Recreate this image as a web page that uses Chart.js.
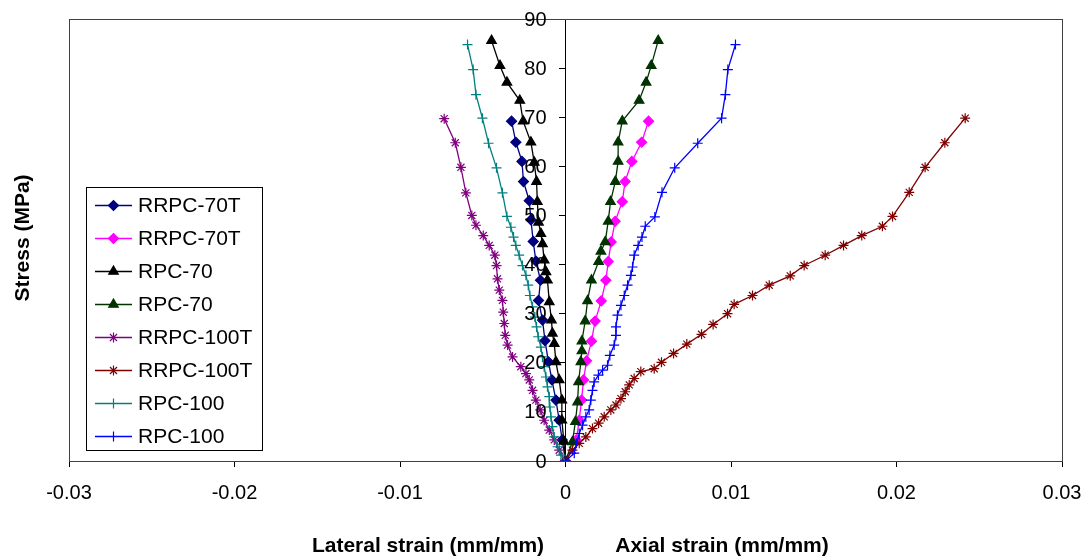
<!DOCTYPE html>
<html lang="en">
<head>
<meta charset="utf-8">
<title>Stress - strain</title>
<script src="https://cdn.jsdelivr.net/npm/chart.js"></script>
<style>
  html, body { margin: 0; padding: 0; background: #fff; }
  #wrap { width: 1087px; height: 557px; position: relative; }
</style>
</head>
<body>
<div id="wrap"><canvas id="chart" width="1087" height="557"></canvas></div>
<script>
// axis ticks
var xTickValues = [-0.03, -0.02, -0.01, 0, 0.01, 0.02, 0.03];
var xTickLabels = ['-0.03', '-0.02', '-0.01', '0', '0.01', '0.02', '0.03'];
var yTickValues = [0, 10, 20, 30, 40, 50, 60, 70, 80, 90];
var yTickLabels = ['0', '10', '20', '30', '40', '50', '60', '70', '80', '90'];

var seriesNames = ['RRPC-70T', 'RRPC-70T', 'RPC-70', 'RPC-70', 'RRPC-100T', 'RRPC-100T', 'RPC-100', 'RPC-100'];

// RRPC-70T lateral / axial
var rrpc70tLatStrain = [0, -0.0002, -0.00038, -0.00058, -0.00082, -0.00103, -0.00124, -0.00139, -0.00163, -0.00151, -0.00179, -0.00195, -0.00209, -0.00219, -0.00254, -0.00263, -0.003, -0.00326];
var rrpc70tLatStress = [0, 4.3, 8.3, 12.4, 16.5, 20.2, 24.5, 28.7, 32.7, 36.8, 40.7, 44.7, 49.1, 53.0, 56.9, 61.0, 64.9, 69.2];
var rrpc70tAxStrain = [0, 0.00065, 0.00083, 0.00097, 0.00109, 0.00127, 0.00157, 0.00179, 0.00216, 0.00244, 0.00258, 0.00276, 0.003, 0.00343, 0.0036, 0.00401, 0.0046, 0.00502];
var rrpc70tAxStress = [0, 4.3, 8.3, 12.4, 16.5, 20.4, 24.4, 28.5, 32.6, 36.8, 40.6, 44.6, 48.8, 52.8, 56.9, 61.0, 64.9, 69.2];

// RPC-70 lateral / axial
var rpc70LatStrain = [0, -0.0001, -0.00022, -0.00022, -0.00038, -0.00058, -0.00068, -0.00079, -0.00085, -0.00098, -0.00109, -0.00118, -0.00129, -0.00139, -0.00149, -0.00163, -0.0017, -0.00175, -0.00189, -0.00209, -0.00256, -0.00276, -0.00354, -0.00396, -0.00447];
var rpc70LatStress = [0, 4.0, 8.3, 12.4, 16.5, 20.2, 23.9, 26.0, 28.7, 32.4, 36.8, 38.5, 40.9, 44.2, 46.3, 48.6, 52.8, 56.9, 60.8, 64.9, 69.2, 73.4, 77.1, 80.5, 85.6];
var rpc70AxStrain = [0, 0.00042, 0.0006, 0.00073, 0.00079, 0.00093, 0.00099, 0.00099, 0.00119, 0.00133, 0.00157, 0.002, 0.00214, 0.0024, 0.00258, 0.00272, 0.00301, 0.00318, 0.00318, 0.00343, 0.00445, 0.00487, 0.00518, 0.0056];
var rpc70AxStress = [0, 3.9, 8.0, 12.0, 16.1, 20.2, 22.4, 24.4, 28.5, 32.6, 36.8, 40.6, 42.7, 44.6, 48.8, 52.8, 56.9, 61.0, 64.9, 69.2, 73.4, 77.1, 80.5, 85.6];

// RRPC-100T lateral / axial
var rrpc100tLatStrain = [0, -0.00038, -0.00068, -0.00098, -0.00129, -0.00153, -0.00179, -0.00199, -0.00219, -0.00239, -0.0027, -0.0032, -0.0035, -0.00364, -0.0037, -0.00376, -0.00381, -0.004, -0.00411, -0.00417, -0.00427, -0.00461, -0.00497, -0.00541, -0.00566, -0.00602, -0.00632, -0.00666, -0.00733];
var rrpc100tLatStress = [0, 2.2, 4.3, 6.3, 8.3, 10.4, 12.4, 14.4, 16.5, 17.8, 19.2, 21.2, 23.6, 25.6, 28.0, 30.3, 32.7, 34.8, 37.1, 39.8, 41.9, 43.9, 45.9, 48.0, 50.0, 54.6, 59.8, 64.8, 69.7];
var rrpc100tAxStrain = [0, 0.00042, 0.00083, 0.00123, 0.00163, 0.002, 0.00234, 0.00274, 0.00305, 0.00335, 0.00361, 0.00385, 0.00415, 0.00455, 0.00536, 0.0058, 0.00653, 0.00733, 0.00822, 0.00892, 0.00979, 0.01019, 0.0113, 0.01231, 0.01358, 0.01442, 0.01569, 0.0168, 0.0179, 0.01915, 0.01976, 0.02077, 0.02173, 0.02292, 0.02415];
var rrpc100tAxStress = [0, 2.2, 3.6, 4.9, 6.6, 7.7, 9.0, 10.4, 11.4, 12.7, 14.1, 15.5, 16.8, 18.2, 18.8, 20.1, 21.9, 23.8, 25.8, 27.8, 30.0, 31.9, 33.7, 35.8, 37.7, 39.8, 41.9, 43.9, 45.9, 47.8, 49.8, 54.7, 59.8, 64.8, 69.8];

// RPC-100 lateral / axial
var rpc100LatStrain = [0, -0.00028, -0.00048, -0.00068, -0.00079, -0.00088, -0.00094, -0.00098, -0.00109, -0.00118, -0.00129, -0.00139, -0.00149, -0.00165, -0.00175, -0.00185, -0.00199, -0.00215, -0.00225, -0.00239, -0.0026, -0.0028, -0.003, -0.00314, -0.0033, -0.00354, -0.00381, -0.00417, -0.00465, -0.00502, -0.00541, -0.00558, -0.00592];
var rpc100LatStress = [0, 1.2, 2.9, 4.9, 7.0, 9.0, 11.0, 13.1, 15.1, 17.1, 19.2, 21.2, 23.2, 25.3, 27.3, 29.3, 31.4, 33.7, 35.8, 37.8, 39.8, 41.9, 43.9, 45.6, 47.6, 49.8, 54.6, 59.7, 64.7, 69.8, 74.6, 79.7, 84.8];
var rpc100AxStrain = [0, 0.00053, 0.00066, 0.00083, 0.00103, 0.00123, 0.00143, 0.00153, 0.00163, 0.00173, 0.00199, 0.00224, 0.00254, 0.00268, 0.00294, 0.00305, 0.00305, 0.00314, 0.00335, 0.00355, 0.00375, 0.00395, 0.00405, 0.00415, 0.00439, 0.00462, 0.00482, 0.0054, 0.00583, 0.0066, 0.00799, 0.00943, 0.00966, 0.00981, 0.01027];
var rpc100AxStress = [0, 1.6, 3.6, 5.6, 7.3, 9.0, 10.4, 12.4, 14.4, 16.1, 17.5, 18.5, 19.5, 21.5, 23.6, 25.6, 27.3, 29.7, 31.7, 33.7, 35.8, 37.8, 39.5, 41.9, 43.9, 45.6, 47.8, 49.7, 54.7, 59.7, 64.7, 69.8, 74.6, 79.7, 84.8];

function pts(xs, ys) {
  var out = [];
  for (var i = 0; i < xs.length; i++) out.push({x: xs[i], y: ys[i]});
  return out;
}

function serie(i, xs, ys, color, style, r) {
  return {
    label: seriesNames[i],
    data: pts(xs, ys),
    showLine: true,
    borderColor: color,
    backgroundColor: color,
    borderWidth: 1.3,
    pointStyle: style,
    pointRadius: r,
    pointBorderWidth: 1.2,
    pointBorderColor: color,
    pointBackgroundColor: color,
    order: 8 - i
  };
}

var datasets = [
  serie(0, rrpc70tLatStrain, rrpc70tLatStress, '#000080', 'rectRot', 5),
  serie(1, rrpc70tAxStrain, rrpc70tAxStress, '#FF00FF', 'rectRot', 5),
  serie(2, rpc70LatStrain, rpc70LatStress, '#000000', 'triangle', 5.5),
  serie(3, rpc70AxStrain, rpc70AxStress, '#003300', 'triangle', 5.5),
  serie(4, rrpc100tLatStrain, rrpc100tLatStress, '#800080', 'star', 5),
  serie(5, rrpc100tAxStrain, rrpc100tAxStress, '#800000', 'star', 5),
  serie(6, rpc100LatStrain, rpc100LatStress, '#008080', 'cross', 5),
  serie(7, rpc100AxStrain, rpc100AxStress, '#0000FF', 'cross', 5)
];

var FONT = '"Liberation Sans", Arial, sans-serif';

// frame, tick labels, axis titles and the boxed legend
var decor = {
  id: 'decor',
  afterDraw: function(chart) {
    var ctx = chart.ctx;
    var a = chart.chartArea;
    var xs = chart.scales.x, ys = chart.scales.y;
    ctx.save();
    ctx.strokeStyle = '#404040';
    ctx.lineWidth = 1;
    ctx.strokeRect(Math.round(a.left) + 0.5, Math.round(a.top) + 0.5, Math.round(a.right - a.left), Math.round(a.bottom - a.top));

    ctx.fillStyle = '#000';
    ctx.font = '20px ' + FONT;
    ctx.textBaseline = 'middle';
    // y labels sit left of the centred axis
    ctx.textAlign = 'right';
    var ax = xs.getPixelForValue(0);
    for (var k = 0; k < yTickValues.length; k++) {
      ctx.fillText(yTickLabels[k], ax - 19, ys.getPixelForValue(yTickValues[k]) + 1);
    }
    ctx.textAlign = 'center';
    for (var j = 0; j < xTickValues.length; j++) {
      ctx.fillText(xTickLabels[j], xs.getPixelForValue(xTickValues[j]), 493);
    }

    ctx.font = 'bold 21px ' + FONT;
    ctx.fillText('Lateral strain (mm/mm)', 428, 546);
    ctx.fillText('Axial strain (mm/mm)', 722, 546);
    ctx.save();
    ctx.translate(23, 238);
    ctx.rotate(-Math.PI / 2);
    ctx.fillText('Stress (MPa)', 0, 0);
    ctx.restore();

    // legend
    var bx = 86, by = 187, bw = 176, bh = 263;
    ctx.fillStyle = '#fff';
    ctx.fillRect(bx, by, bw, bh);
    ctx.strokeStyle = '#000';
    ctx.strokeRect(bx + 0.5, by + 0.5, bw, bh);
    ctx.font = '21px ' + FONT;
    ctx.textAlign = 'left';
    for (var i = 0; i < datasets.length; i++) {
      var d = datasets[i];
      var y = 205.5 + i * 33;
      ctx.strokeStyle = d.borderColor;
      ctx.lineWidth = 1.5;
      ctx.beginPath();
      ctx.moveTo(95, y);
      ctx.lineTo(132, y);
      ctx.stroke();
      ctx.fillStyle = d.borderColor;
      ctx.lineWidth = 1.2;
      Chart.helpers.drawPoint(ctx, {pointStyle: d.pointStyle, radius: d.pointRadius, rotation: 0, borderWidth: 1.2}, 113.5, y);
      ctx.fillStyle = '#000';
      ctx.fillText(d.label, 138, y + 1);
    }
    ctx.restore();
  }
};

new Chart(document.getElementById('chart'), {
  type: 'scatter',
  data: { datasets: datasets },
  options: {
    responsive: false,
    animation: false,
    layout: { padding: { left: 69, right: 25, top: 19, bottom: 90 } },
    plugins: { legend: { display: false }, tooltip: { enabled: false } },
    elements: { line: { tension: 0 } },
    scales: {
      x: {
        type: 'linear',
        position: 'bottom',
        min: -0.03,
        max: 0.03,
        afterBuildTicks: function(s) { s.ticks = xTickValues.map(function(v) { return {value: v}; }); },
        grid: { drawOnChartArea: false, drawTicks: true, tickLength: 6, color: '#000' },
        border: { display: true, color: '#000', width: 1 },
        ticks: { display: false }
      },
      y: {
        type: 'linear',
        position: { x: 0 },
        min: 0,
        max: 90,
        afterBuildTicks: function(s) { s.ticks = yTickValues.map(function(v) { return {value: v}; }); },
        grid: { drawOnChartArea: false, drawTicks: true, tickLength: 6, color: '#000' },
        border: { display: true, color: '#000', width: 1 },
        ticks: { display: false }
      }
    }
  },
  plugins: [decor]
});
</script>
</body>
</html>
